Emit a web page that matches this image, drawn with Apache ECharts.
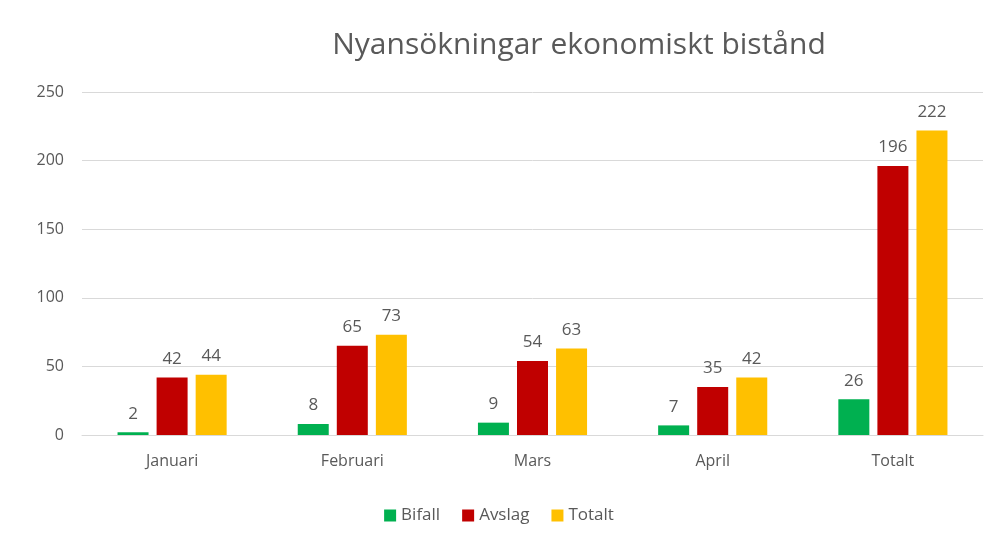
<!DOCTYPE html>
<html>
<head>
<meta charset="utf-8">
<script src="https://cdn.jsdelivr.net/npm/echarts@6/dist/echarts.min.js"></script>
<style>
  html, body { margin: 0; padding: 0; background: #fff; }
  #main { width: 998px; height: 545px; }
</style>
</head>
<body>
<div id="main"></div>
<script>
const months = ['Januari', 'Februari', 'Mars', 'April', 'Totalt'];
const bifall = [2, 8, 9, 7, 26];
const avslag = [42, 65, 54, 35, 196];
const totalt = [44, 73, 63, 42, 222];
const yTicks = [0, 50, 100, 150, 200, 250];

const font = '"Open Sans", Lato, sans-serif';
const textGray = '#595959';

const chart = echarts.init(document.getElementById('main'));

function bar(name, data, color) {
  return {
    name: name,
    type: 'bar',
    data: data,
    barWidth: 31,
    barGap: '26%',
    itemStyle: { color: color },
    label: {
      show: true,
      position: 'top',
      distance: 10,
      color: textGray,
      fontFamily: font,
      fontSize: 17
    }
  };
}

chart.setOption({
  animation: false,
  title: {
    text: 'Nyansökningar ekonomiskt bistånd',
    left: 574,
    textAlign: 'center',
    top: 25,
    textStyle: { color: textGray, fontFamily: font, fontSize: 30, fontWeight: 'normal' }
  },
  legend: {
    bottom: 16,
    left: 'center',
    itemWidth: 12,
    itemHeight: 12,
    itemGap: 22,
    icon: 'rect',
    textStyle: { color: textGray, fontFamily: font, fontSize: 17 },
    data: ['Bifall', 'Avslag', 'Totalt']
  },
  grid: { left: 82, right: 15, top: 92, bottom: 110 },
  xAxis: {
    type: 'category',
    data: months,
    axisTick: { show: false },
    axisLine: { lineStyle: { color: '#d9d9d9' } },
    axisLabel: { color: textGray, fontFamily: font, fontSize: 16, margin: 18 }
  },
  yAxis: {
    type: 'value',
    min: yTicks[0],
    max: yTicks[yTicks.length - 1],
    interval: 50,
    axisLine: { show: false },
    axisTick: { show: false },
    splitLine: { lineStyle: { color: '#d9d9d9' } },
    axisLabel: { color: textGray, fontFamily: font, fontSize: 16, margin: 18 }
  },
  series: [
    bar('Bifall', bifall, '#00B050'),
    bar('Avslag', avslag, '#C00000'),
    bar('Totalt', totalt, '#FFC000')
  ]
});
</script>
</body>
</html>
